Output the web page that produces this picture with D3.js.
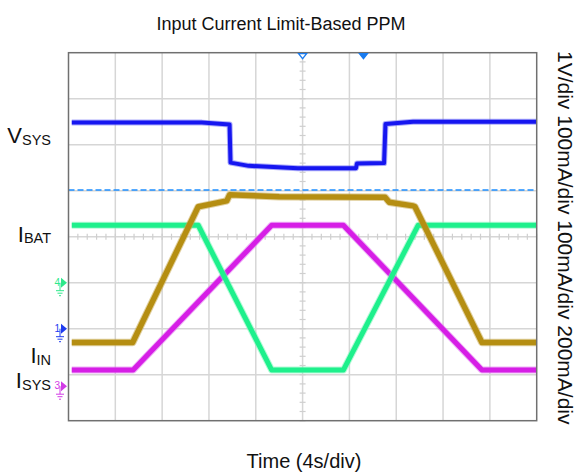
<!DOCTYPE html>
<html>
<head>
<meta charset="utf-8">
<script src="https://d3js.org/d3.v7.min.js"></script>
<style>
  body { margin: 0; background: #fff; }
  text { font-family: "Liberation Sans", Arial, sans-serif; }
</style>
</head>
<body>
<div id="chart"></div>
<script>
var vsys = [[0.07, 6.48], [2.85, 6.48], [3.44, 6.44], [3.46, 5.61], [3.85, 5.54], [4.9, 5.49],
            [6.14, 5.49], [6.16, 5.59], [6.74, 5.60], [6.77, 6.45], [7.36, 6.50], [10, 6.50]];
var iin = [[0.07, 1.70], [1.37, 1.70], [2.77, 4.65], [3.38, 4.78], [3.44, 4.91], [4.5, 4.87],
           [6.76, 4.86], [6.85, 4.75], [7.36, 4.67], [7.40, 4.65], [8.83, 1.70], [10, 1.70]];
var ibat = [[0.07, 4.25], [2.77, 4.25], [4.34, 1.10], [5.87, 1.10], [7.47, 4.25], [10, 4.25]];
var isys = [[0.07, 1.10], [1.38, 1.10], [4.34, 4.25], [5.87, 4.25], [8.83, 1.10], [10, 1.10]];
var cursorLevel = 5.015;
var groundMarks = [{ch: "4", y: 3.0, color: "#2ee88a"}, {ch: "1", y: 2.0, color: "#1f3cf0"}, {ch: "3", y: 0.75, color: "#d23be6"}];
var trigMarks = [{x: 5.0, hollow: true}, {x: 6.3, hollow: false}];
var sideLabels = [{main: "V", sub: "SYS", y: 143}, {main: "I", sub: "BAT", y: 241.5}, {main: "I", sub: "IN", y: 363}, {main: "I", sub: "SYS", y: 388}];
var scaleText = "1V/div 100mA/div 100mA/div 200mA/div";

var width = 581, height = 474;
var plot = {left: 68.5, right: 536.7, top: 52.7, bottom: 420.7};

var svg = d3.select("#chart").append("svg")
    .attr("width", width)
    .attr("height", height);

var xScale = d3.scaleLinear().domain([0, 10]).range([plot.left, plot.right]);
var yScale = d3.scaleLinear().domain([0, 8]).range([plot.bottom, plot.top]);

// grid
var grid = svg.append("g").attr("class", "grid");
grid.selectAll(".vgrid").data(d3.range(1, 10)).enter().append("line")
    .attr("x1", function(d) { return xScale(d); }).attr("x2", function(d) { return xScale(d); })
    .attr("y1", plot.top).attr("y2", plot.bottom)
    .style("stroke", "#d6d6d6").style("stroke-width", 1.5);
grid.selectAll(".hgrid").data(d3.range(1, 8)).enter().append("line")
    .attr("x1", plot.left).attr("x2", plot.right)
    .attr("y1", function(d) { return yScale(d); }).attr("y2", function(d) { return yScale(d); })
    .style("stroke", "#d6d6d6").style("stroke-width", 1.5);

// minor ticks on the centre lines
grid.selectAll(".ytick").data(d3.range(0, 8.01, 0.2)).enter().append("line")
    .attr("x1", xScale(5) - 3).attr("x2", xScale(5) + 3)
    .attr("y1", function(d) { return yScale(d); }).attr("y2", function(d) { return yScale(d); })
    .style("stroke", "#cfcfcf").style("stroke-width", 1.2);
grid.selectAll(".xtick").data(d3.range(0, 10.01, 0.2)).enter().append("line")
    .attr("x1", function(d) { return xScale(d); }).attr("x2", function(d) { return xScale(d); })
    .attr("y1", yScale(4) - 3).attr("y2", yScale(4) + 3)
    .style("stroke", "#cfcfcf").style("stroke-width", 1.2);

// cursor line
svg.append("line")
    .attr("x1", plot.left).attr("x2", plot.right)
    .attr("y1", yScale(cursorLevel)).attr("y2", yScale(cursorLevel))
    .style("stroke", "#1e8fff").style("stroke-width", 1.3)
    .style("stroke-dasharray", "6,3");

var line = d3.line()
    .x(function(d) { return xScale(d[0]); })
    .y(function(d) { return yScale(d[1]); });

var traces = [
    {id: "isys", values: isys, color: "#d61ee6", fuzz: "#e070f0", w: 5},
    {id: "ibat", values: ibat, color: "#1ef08c", fuzz: "#7af5b8", w: 5},
    {id: "iin", values: iin, color: "#b58e12", fuzz: "#c9aa50", w: 5.5},
    {id: "vsys", values: vsys, color: "#1616f0", fuzz: "#6a6af5", w: 4}
];

var tr = svg.selectAll(".trace").data(traces).enter().append("g").attr("class", "trace");
tr.append("path")
    .attr("d", function(d) { return line(d.values); })
    .style("fill", "none")
    .style("stroke", function(d) { return d.fuzz; })
    .style("stroke-width", function(d) { return d.w + 2; })
    .style("stroke-linejoin", "round")
    .style("opacity", 0.55);
tr.append("path")
    .attr("d", function(d) { return line(d.values); })
    .style("fill", "none")
    .style("stroke", function(d) { return d.color; })
    .style("stroke-width", function(d) { return d.w; })
    .style("stroke-linejoin", "round");

// frame
svg.append("rect")
    .attr("x", plot.left).attr("y", plot.top)
    .attr("width", plot.right - plot.left).attr("height", plot.bottom - plot.top)
    .style("fill", "none").style("stroke", "#707070").style("stroke-width", 1.5);

// trigger markers on the top edge
svg.selectAll(".trig").data(trigMarks).enter().append("path")
    .attr("d", function(d) {
        var x = xScale(d.x), y = plot.top + 1;
        return "M" + (x - 4) + "," + y + "L" + (x + 4) + "," + y + "L" + x + "," + (y + 5) + "Z";
    })
    .style("fill", function(d) { return d.hollow ? "#fff" : "#1a7cf0"; })
    .style("stroke", "#1a7cf0").style("stroke-width", 1.3);

// channel ground markers
var gm = svg.selectAll(".gmark").data(groundMarks).enter().append("g")
    .attr("transform", function(d) { return "translate(" + (plot.left - 1.5) + "," + yScale(d.y) + ")"; });
gm.append("path")
    .attr("d", "M-6,-5L0,0L-6,5Z")
    .style("fill", function(d) { return d.color; });
gm.append("text")
    .attr("x", -7).attr("y", 3)
    .attr("text-anchor", "end")
    .style("font-size", "10px")
    .style("fill", function(d) { return d.color; })
    .text(function(d) { return d.ch; });
gm.append("path")
    .attr("d", "M-7,0L-7,8M-11,8L-3,8M-9.5,10.5L-4.5,10.5M-8,13L-6,13")
    .style("stroke", function(d) { return d.color; })
    .style("fill", "none").style("stroke-width", 1);

// left labels
var lab = svg.selectAll(".lab").data(sideLabels).enter().append("text")
    .attr("x", 51).attr("y", function(d) { return d.y; })
    .attr("text-anchor", "end")
    .style("fill", "#111");
lab.append("tspan").style("font-size", "22px").text(function(d) { return d.main; });
lab.append("tspan").style("font-size", "14.5px").attr("dy", 1.5).text(function(d) { return d.sub; });

// title, x label, right scale label
svg.append("text")
    .attr("x", 281).attr("y", 30)
    .attr("text-anchor", "middle")
    .style("font-size", "18px").style("fill", "#111")
    .text("Input Current Limit-Based PPM");
svg.append("text")
    .attr("x", 304).attr("y", 468)
    .attr("text-anchor", "middle")
    .style("font-size", "20px").style("fill", "#111")
    .text("Time (4s/div)");
svg.append("text")
    .attr("transform", "translate(558,51) rotate(90)")
    .style("font-size", "21px").style("fill", "#111")
    .text(scaleText);
</script>
</body>
</html>
